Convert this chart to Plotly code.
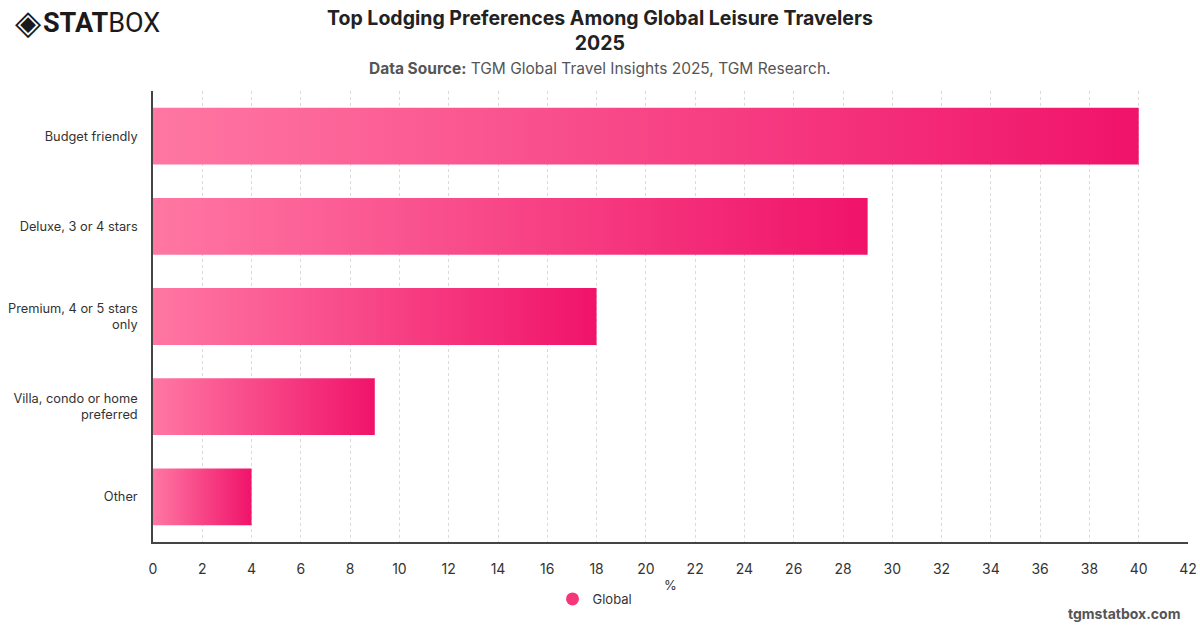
import plotly.graph_objects as go

categories = ["Budget friendly", "Deluxe, 3 or 4 stars", "Premium, 4 or 5 stars<br>only",
              "Villa, condo or home<br>preferred", "Other"]
values = [40, 29, 18, 9, 4]
series_name = "Global"
x_ticks = list(range(0, 43, 2))

START_COLOR = "#FF77A3"
END_COLOR = "#F0136A"
HALF = 0.315
FONT = "Inter, Roboto, Arial, sans-serif"

W, H = 1200, 628
ML, MR, MT, MB = 153, 12, 91, 86
PW, PH = W - ML - MR, H - MT - MB


def px_x(px):
    return (px - ML) / PW


def px_y(py):
    return (H - MB - py) / PH


fig = go.Figure()
for i, (cat, v) in enumerate(zip(categories, values)):
    fig.add_trace(go.Scatter(
        x=[0, v, v, 0, 0],
        y=[i - HALF, i - HALF, i + HALF, i + HALF, i - HALF],
        mode="lines",
        line=dict(width=0),
        fill="toself",
        fillgradient=dict(type="horizontal",
                          colorscale=[[0, START_COLOR], [1, END_COLOR]]),
        showlegend=False,
        hovertemplate=f"{cat}: {v}%<extra></extra>",
    ))

fig.add_trace(go.Scatter(
    x=[None], y=[None], mode="markers", name=series_name,
    marker=dict(symbol="circle", size=13, color="#F5377A"),
))

fig.update_layout(
    width=W, height=H,
    margin=dict(l=ML, r=MR, t=MT, b=MB, autoexpand=False),
    paper_bgcolor="white", plot_bgcolor="white",
    font=dict(family=FONT, color="#333333", size=13),
    showlegend=True,
    legend=dict(orientation="h", x=px_x(595), xanchor="center", y=px_y(584), yanchor="top",
                font=dict(size=13, color="#333333")),
    xaxis=dict(
        range=[0, 42], tickvals=x_ticks, ticktext=[str(t) for t in x_ticks],
        showgrid=True, gridcolor="#DADADA", griddash="dot", gridwidth=1,
        showline=True, linecolor="#444444", linewidth=1.5,
        ticks="outside", ticklen=13, tickcolor="rgba(0,0,0,0)",
        tickfont=dict(size=14, color="#333333"),
        title=dict(text="%", font=dict(size=13, color="#333333"), standoff=5),
        zeroline=False, fixedrange=True, automargin=False,
    ),
    yaxis=dict(
        range=[4.5, -0.5], tickvals=list(range(len(categories))), ticktext=categories,
        showgrid=False, showline=True, linecolor="#444444", linewidth=1.5,
        ticks="outside", ticklen=11, tickcolor="rgba(0,0,0,0)",
        tickfont=dict(size=12.8, color="#333333"),
        zeroline=False, fixedrange=True, automargin=False,
    ),
)

fig.add_annotation(
    text="<b>Top Lodging Preferences Among Global Leisure Travelers<br>2025</b>",
    xref="paper", yref="paper", x=px_x(600), xanchor="center",
    y=px_y(4), yanchor="top", showarrow=False,
    font=dict(size=19.5, color="#222222", family=FONT),
)
fig.add_annotation(
    text="<b>Data Source:</b> TGM Global Travel Insights 2025, TGM Research.",
    xref="paper", yref="paper", x=px_x(600), xanchor="center",
    y=px_y(57), yanchor="top", showarrow=False,
    font=dict(size=15.5, color="#555555", family=FONT),
)
fig.add_annotation(
    text="<b>tgmstatbox.com</b>",
    xref="paper", yref="paper", x=px_x(1182), xanchor="right",
    y=px_y(624), yanchor="bottom", showarrow=False,
    font=dict(size=14, color="#555555", family=FONT),
)
fig.add_annotation(
    text="◈",
    xref="paper", yref="paper", x=px_x(13), xanchor="left",
    y=px_y(22), yanchor="middle", showarrow=False,
    font=dict(size=34, color="#1A1A1A", family="DejaVu Sans"),
)
fig.add_annotation(
    text="<b>STAT</b>BOX",
    xref="paper", yref="paper", x=px_x(41), xanchor="left",
    y=px_y(23), yanchor="middle", showarrow=False,
    font=dict(size=27, color="#1A1A1A", family="Roboto, Arial, sans-serif"),
)

fig.write_html("out.html")
